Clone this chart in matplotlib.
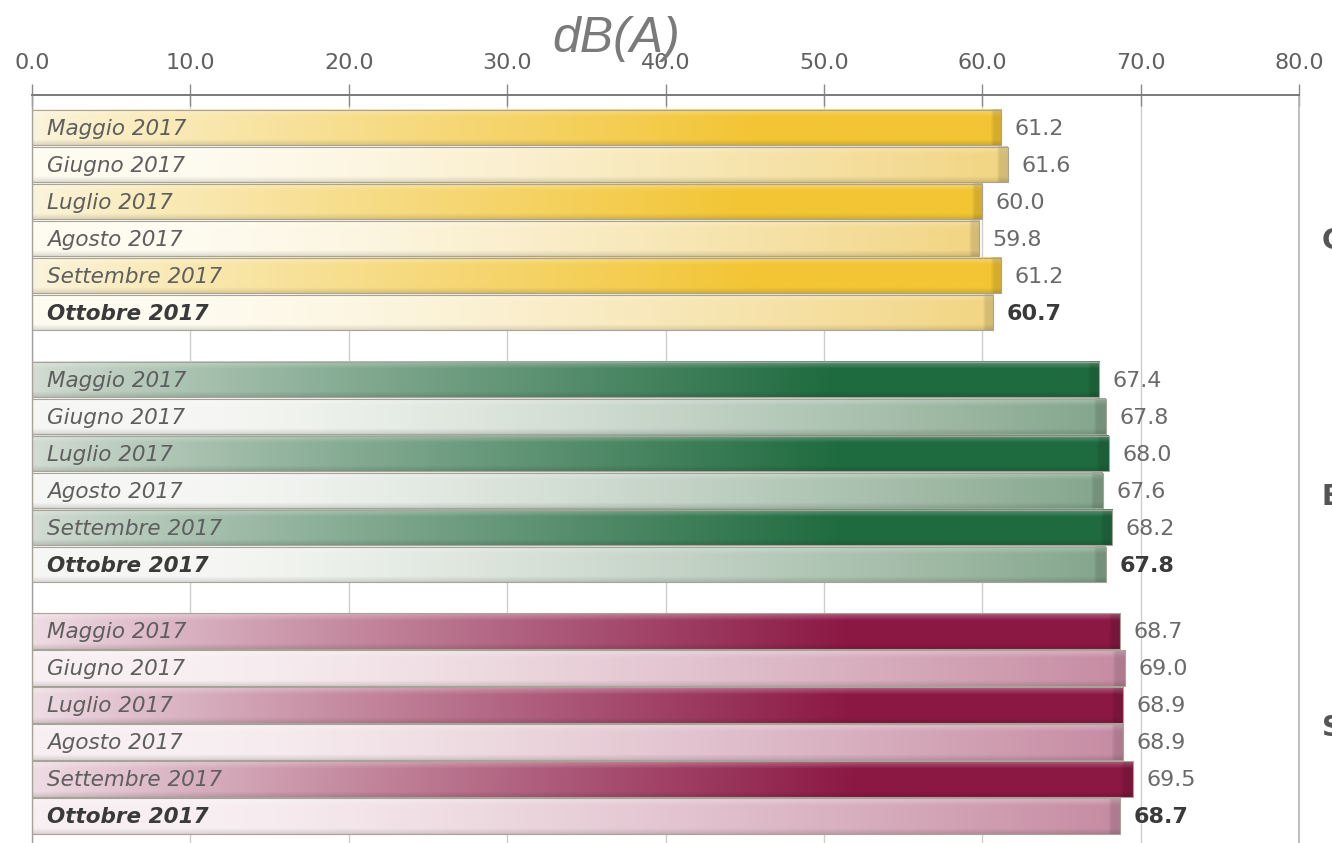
import matplotlib
matplotlib.use('Agg')
import matplotlib.pyplot as plt
import matplotlib.colors as mcolors
import numpy as np

# data
months = ['Maggio 2017', 'Giugno 2017', 'Luglio 2017',
          'Agosto 2017', 'Settembre 2017', 'Ottobre 2017']
values_c = [61.2, 61.6, 60.0, 59.8, 61.2, 60.7]
values_b = [67.4, 67.8, 68.0, 67.6, 68.2, 67.8]
values_s = [68.7, 69.0, 68.9, 68.9, 69.5, 68.7]
group_tags = ['C', 'B', 'S']
x_ticks = [0, 10, 20, 30, 40, 50, 60, 70, 80]

groups = [values_c, values_b, values_s]

# (left colour, right colour) for strong rows and pale rows of each group
palettes = [
    {'strong': ('#fbf4dc', '#f3c534'), 'pale': ('#fefbf0', '#f2d583')},
    {'strong': ('#d3dcd2', '#1f6b40'), 'pale': ('#f6f7f4', '#84a68c')},
    {'strong': ('#efdde4', '#8b1843'), 'pale': ('#f8eff2', '#c68ba2')},
]


def bar_image(left, right, strong, n=300, m=40):
    c0 = np.array(mcolors.to_rgb(left))
    c1 = np.array(mcolors.to_rgb(right))
    t = np.linspace(0, 1, n)
    if strong:
        ramp = np.clip(t / 0.75, 0, 1) ** 0.9
    else:
        ramp = np.clip((t - 0.15) / 0.85, 0, 1) ** 1.3
    row = c0 + (c1 - c0) * ramp[:, None]
    img = np.repeat(row[None, :, :], m, axis=0)
    v = np.linspace(0, 1, m)
    # light band near the top, soft shadow at the bottom
    hi = np.clip(1 - v / 0.2, 0, 1) * 0.3
    img = img + (1 - img) * hi[:, None, None]
    lo = 1 - np.clip((v - 0.85) / 0.15, 0, 1) * 0.12
    img = img * lo[:, None, None]
    # darker end cap
    img[:, -3:, :] *= 0.88
    return np.clip(img, 0, 1)


fig = plt.figure(figsize=(13.32, 8.43), dpi=100)
ax = fig.add_axes([32 / 1332, 0.0, (1299 - 32) / 1332, 1 - 95 / 843])

step = 6.8
row_h = 0.95
for g, vals in enumerate(groups):
    ypos = [g * step + i for i in range(len(vals))]
    bars = ax.barh(ypos, vals, height=row_h, color='none',
                   edgecolor='#a8a398', linewidth=0.8, zorder=3)
    for i, (b, v) in enumerate(zip(bars, vals)):
        strong = (i % 2 == 0)
        left, right = palettes[g]['strong' if strong else 'pale']
        img = bar_image(left, right, strong)
        x0, y0, w, h = b.get_x(), b.get_y(), b.get_width(), b.get_height()
        ax.imshow(img, extent=(x0, x0 + w, y0 + h, y0), aspect='auto',
                  interpolation='bilinear', zorder=2)
        last = (i == len(vals) - 1)
        ax.text(0.95, ypos[i] + 0.03, months[i], ha='left', va='center',
                fontsize=15.5, style='italic',
                fontweight='bold' if last else 'normal',
                color='#3a3a3a' if last else '#5e5e5e', zorder=4)
        ax.text(v + 0.85, ypos[i] + 0.03, f'{v:.1f}', ha='left', va='center',
                fontsize=16, fontweight='bold' if last else 'normal',
                color='#3a3a3a' if last else '#6a6a6a', zorder=4)

ax.set_xlim(0, 80)
ax.set_ylim(19.33, -0.89)

ax.xaxis.tick_top()
ax.set_xticks(x_ticks)
ax.set_xticklabels([f'{t:.1f}' for t in x_ticks])
ax.tick_params(axis='x', direction='inout', length=16, width=1,
               color='#8a8a8a', labelsize=16, labelcolor='#606060', pad=8)
ax.set_yticks([])
ax.grid(axis='x', color='#cdcdcd', linewidth=1, zorder=0)
ax.set_axisbelow(True)

ax.spines['bottom'].set_visible(False)
ax.spines['right'].set_color('#b5b5b5')
ax.spines['right'].set_linewidth(1.2)
ax.spines['top'].set_color('#7a7a7a')
ax.spines['top'].set_linewidth(1.4)
ax.spines['left'].set_color('#a0a0a0')
ax.spines['left'].set_linewidth(1)

fig.text(616 / 1332, 1 - 39 / 843, 'dB(A)', ha='center', va='center',
         fontsize=36, style='italic', family='Liberation Sans',
         color='#7a7a7a')

tag_y = [241, 497, 728]
for tag, py in zip(group_tags, tag_y):
    fig.text(1322 / 1332, 1 - py / 843, tag, ha='left', va='center',
             fontsize=20, fontweight='bold', color='#555555')

fig.savefig('out.png', dpi=100)
